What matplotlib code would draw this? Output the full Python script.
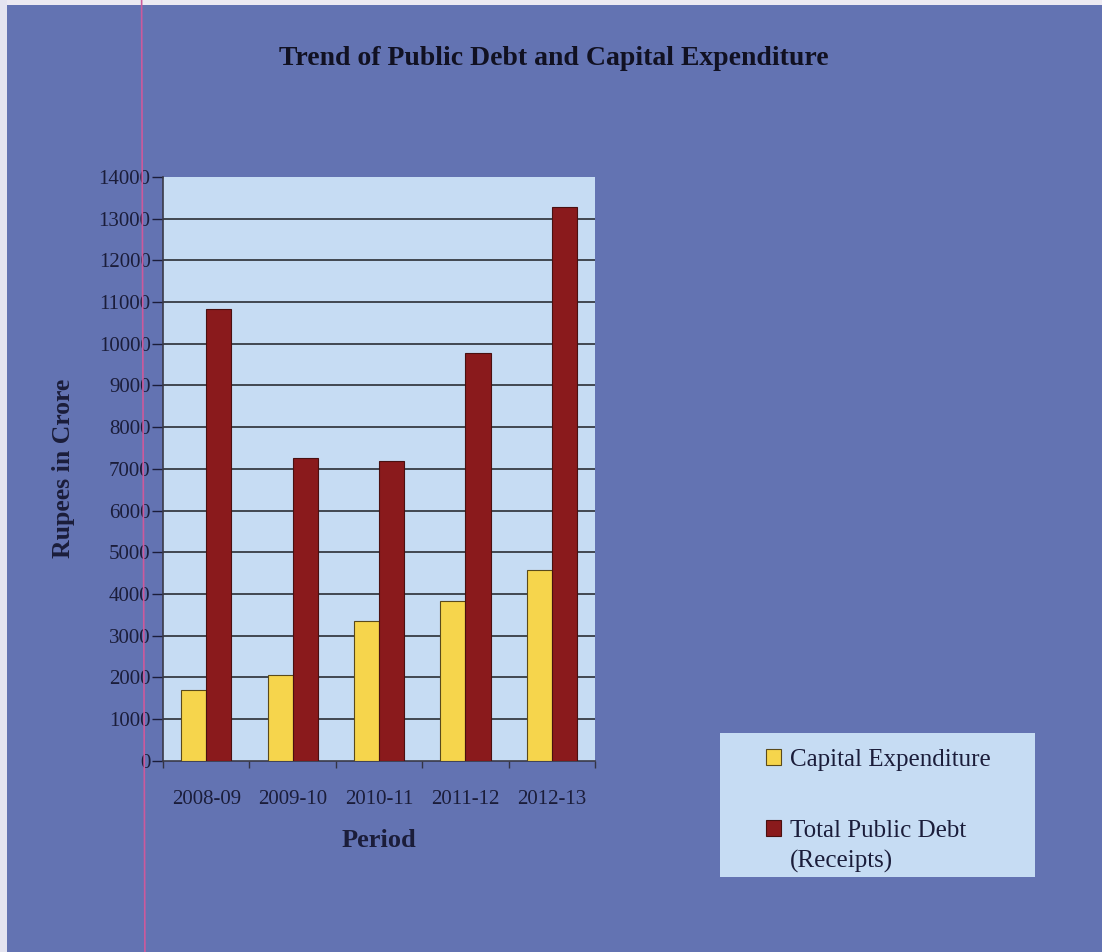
import numpy as np
import matplotlib
matplotlib.use("Agg")
import matplotlib.pyplot as plt
from matplotlib.lines import Line2D
from matplotlib.patches import Rectangle

periods = ['2008-09', '2009-10', '2010-11', '2011-12', '2012-13']
capital_exp = [1700, 2060, 3340, 3820, 4580]
public_debt = [10840, 7260, 7190, 9790, 13280]

bg = '#6373b2'
panel = '#c6dcf3'
ink = '#1b1d3a'

plt.rcParams['font.family'] = ['Liberation Serif', 'DejaVu Serif']

fig = plt.figure(figsize=(11.02, 9.52), dpi=100, facecolor=bg)
ax = fig.add_axes([0.148, 0.201, 0.392, 0.613], facecolor=panel)

x = np.arange(len(periods))
w = 0.29
b1 = ax.bar(x - w / 2, capital_exp, w, color='#f6d54c', edgecolor='#5a4a1a', linewidth=0.8,
            label='Capital Expenditure', zorder=3)
b2 = ax.bar(x + w / 2, public_debt, w, color='#8a1a1c', edgecolor='#4a1010', linewidth=0.8,
            label='Total Public Debt', zorder=3)

ax.set_xlim(-0.5, len(periods) - 0.5)
ax.set_ylim(0, 14000)
ax.set_yticks(np.arange(0, 14001, 1000))
ax.tick_params(axis='y', labelsize=15, colors=ink, length=8, width=1, direction='out', pad=1)
ax.set_xticks(x)
ax.set_xticklabels(periods)
ax.set_xticks(np.arange(-0.5, len(periods)), minor=True)
ax.tick_params(axis='x', which='major', length=0, labelsize=15, colors=ink, pad=21)
ax.tick_params(axis='x', which='minor', length=5, width=1, color='#333344')

for yv in np.arange(1000, 14000, 1000):
    ax.axhline(yv, color='#2b2e35', linewidth=1.2, zorder=1)

for s in ['top', 'right']:
    ax.spines[s].set_visible(False)
for s in ['left', 'bottom']:
    ax.spines[s].set_color('#3a3a48')
    ax.spines[s].set_linewidth(1.2)

ax.set_xlabel('Period', fontsize=19, fontweight='bold', color=ink, va='center')
ax.xaxis.set_label_coords(0.5, -0.137)
ax.set_ylabel('Rupees in Crore', fontsize=18.5, fontweight='bold', color=ink, va='center')
ax.yaxis.set_label_coords(-0.231, 0.5)

fig.text(0.503, 0.939, 'Trend of Public Debt and Capital Expenditure', ha='center', va='center',
         fontsize=20, fontweight='bold', color='#111122')

# legend box with the second label running onto a second line
fig.add_artist(Rectangle((0.6534, 0.0788), 0.2858, 0.1512, transform=fig.transFigure,
                         facecolor=panel, edgecolor='none', zorder=2))
leg = fig.legend(handles=[b1, b2], loc='upper left', bbox_to_anchor=(0.695, 0.213),
                 frameon=False, fontsize=18, labelspacing=1.95,
                 handlelength=0.6, handleheight=0.6, handletextpad=0.36,
                 borderpad=0, borderaxespad=0)
leg.set_zorder(3)
for t in leg.get_texts():
    t.set_color(ink)
fig.text(0.717, 0.095, '(Receipts)', ha='left', va='center', fontsize=18, color=ink, zorder=3)

# page edges and margin rule
fig.add_artist(Rectangle((0, 0.995), 1, 0.005, transform=fig.transFigure,
                         facecolor='#eceaf2', edgecolor='none'))
fig.add_artist(Rectangle((0, 0), 0.006, 1, transform=fig.transFigure,
                         facecolor='#e4e4f0', edgecolor='none'))
fig.add_artist(Line2D([0.1315, 0.1285], [0, 1], color='#cc5a9c', linewidth=1.2,
                      transform=fig.transFigure))

fig.savefig('out.png', dpi=100, facecolor=bg)
